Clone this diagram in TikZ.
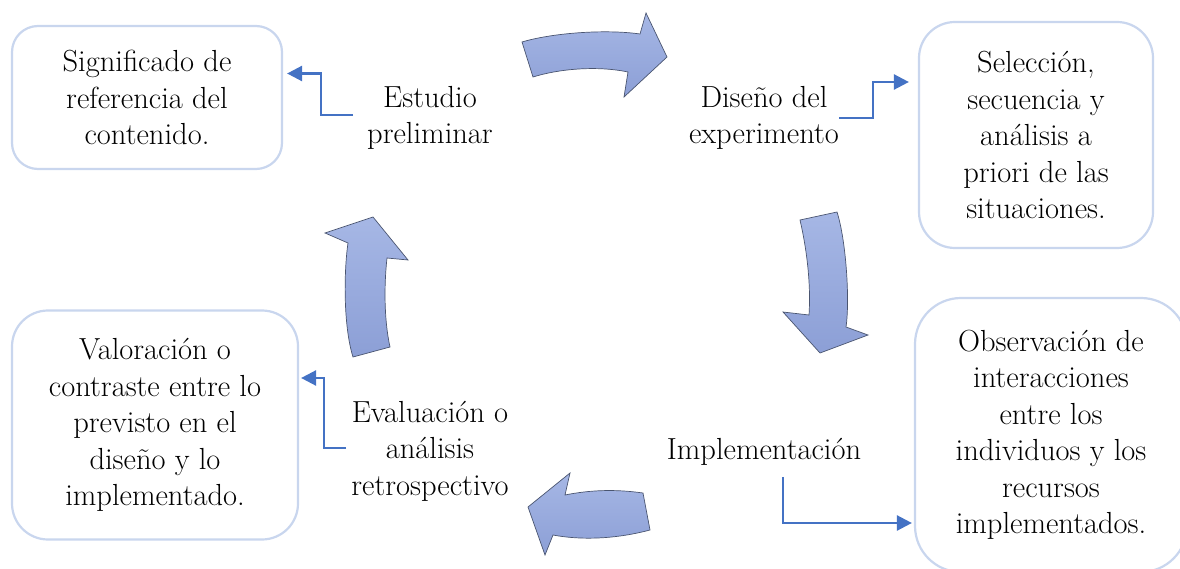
\documentclass[tikz,border=0pt]{standalone}
\usepackage{fontspec}
\usetikzlibrary{arrows.meta,calc}
\definecolor{boxline}{HTML}{C9D6EE}
\definecolor{connblue}{HTML}{4472C4}
\definecolor{arrtop}{HTML}{A6B7E5}
\definecolor{arrbot}{HTML}{8C9FD6}
\definecolor{arrline}{HTML}{4A5570}
\begin{document}
\begin{tikzpicture}[x=1pt,y=-1pt,
  txt/.style={font=\rmfamily\fontsize{30.5}{36.5}\selectfont\addfontfeatures{FakeBold=0.6}, align=center, inner sep=0pt},
  infobox/.style={txt, draw=boxline, line width=2.2pt, fill=white},
  connector/.style={draw=connblue, line width=2.5pt, -{Triangle[length=15pt,width=15pt]}},
  bigarrow/.style={draw=arrline, line width=0.7pt, top color=arrtop, bottom color=arrbot}]
\useasboundingbox (0,0) rectangle (1180,569);
\clip (0,0) rectangle (1180,569);

% boxes
\node[infobox, rounded corners=26pt, minimum width=270pt, minimum height=143pt] (box1) at (147,97.5) {Significado de\\referencia del\\contenido.};
\node[infobox, rounded corners=36pt, minimum width=234pt, minimum height=226pt] (box2) at (1036,135) {Selección,\\secuencia y\\análisis a\\priori de las\\situaciones.};
\node[infobox, rounded corners=46pt, minimum width=272pt, minimum height=274pt] (box3) at (1051,435) {Observación de\\interacciones\\entre los\\individuos y los\\recursos\\implementados.};
\node[infobox, rounded corners=36pt, minimum width=286pt, minimum height=229pt] (box4) at (155,425) {Valoración o\\contraste entre lo\\previsto en el\\diseño y lo\\implementado.};

% stage labels
\node[txt] (est) at (430,118) {Estudio\\preliminar};
\node[txt] (dis) at (764,118) {Diseño del\\experimento};
\node[txt] (imp) at (764,452) {Implementación};
\node[txt] (eva) at (430,451) {Evaluación o\\análisis\\retrospectivo};

% connectors
\draw[connector] ($(est.west)+(-14,-3)$) -- ++(-32,0) |- ($(box1.east)+(4,-24)$);
\draw[connector] (dis.east) -- ++(34,0) |- ($(box2.west)+(-9,-53)$);
\draw[connector] ($(eva.west)+(-5,-3)$) -- ++(-22,0) |- ($(box4.east)+(2,-47)$);
\draw[connector] ($(imp.south)+(19,11)$) |- ($(box3.west)+(-2,88)$);

% cycle arrows
\path[bigarrow] (522,42) .. controls (552,33) and (605,29) .. (640,34) -- (646,13) -- (667,57) -- (624,97) -- (628,72) .. controls (600,66) and (562,68) .. (533,77) -- cycle;
\path[bigarrow] (800,220) -- (837,212) .. controls (846,240) and (850,300) .. (846,327) -- (868,335) -- (820,353) -- (783,312) -- (809,315) .. controls (811,285) and (807,250) .. (800,220) -- cycle;
\path[bigarrow] (643,493) .. controls (615,489) and (590,490) .. (565,495) -- (570,473) -- (528,507) -- (545,555) -- (553,535) .. controls (585,541) and (620,538) .. (650,530) -- cycle;
\path[bigarrow] (353,357) -- (390,347) .. controls (384,320) and (384,285) .. (387,258) -- (408,260) -- (373,217) -- (325,233) -- (348,243) .. controls (344,270) and (343,325) .. (353,357) -- cycle;
\end{tikzpicture}
\end{document}
